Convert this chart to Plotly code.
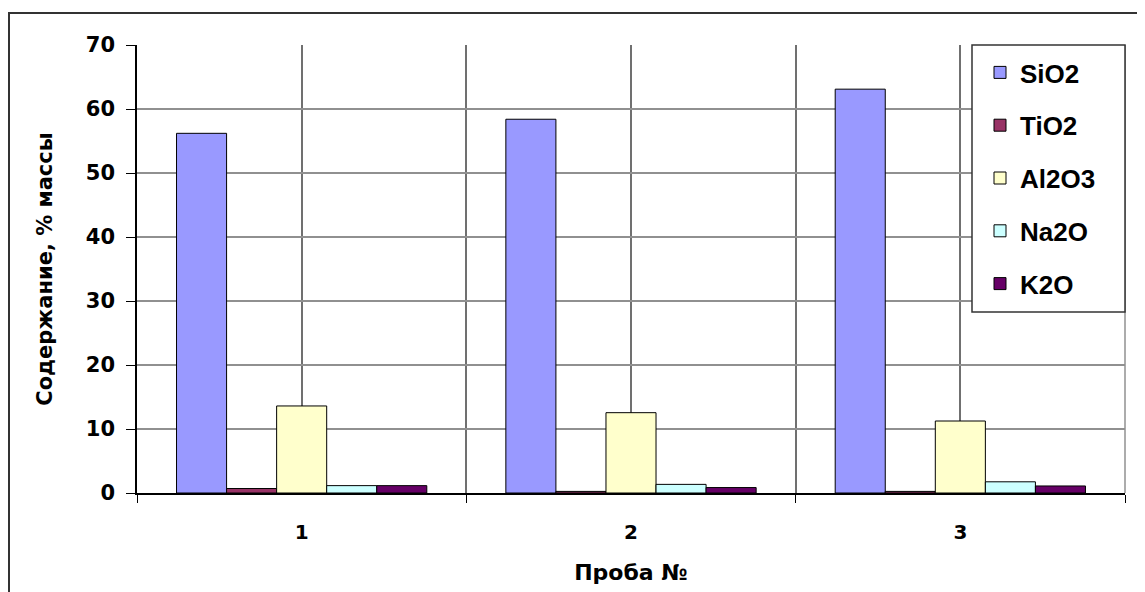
import plotly.graph_objects as go

categories = [1, 2, 3]
category_labels = ["1", "2", "3"]
series_names = ["SiO2", "TiO2", "Al2O3", "Na2O", "K2O"]
sio2 = [56.2, 58.4, 63.1]
tio2 = [0.7, 0.25, 0.25]
al2o3 = [13.6, 12.55, 11.25]
na2o = [1.15, 1.35, 1.75]
k2o = [1.15, 0.85, 1.1]
colors = ["#9999FF", "#993366", "#FFFFCC", "#CCFFFF", "#660066"]
y_ticks = [0, 10, 20, 30, 40, 50, 60, 70]

series_values = [sio2, tio2, al2o3, na2o, k2o]

fig = go.Figure()
for name, vals, col in zip(series_names, series_values, colors):
    fig.add_trace(go.Bar(
        x=categories, y=vals, name=name, legendgroup=name,
        marker=dict(color=col, line=dict(color="#000000", width=1)),
    ))

font_family = "DejaVu Sans, Liberation Sans, Arial, sans-serif"
leg_font = "Liberation Sans, Arial, sans-serif"

PW, PH = 988, 448  # plot area size in px
def px_x(p):
    return (p - 137) / PW
def px_y(p):
    return (493 - p) / PH

fig.update_layout(
    width=1137, height=584,
    margin=dict(l=129, r=20, t=37, b=99),
    paper_bgcolor="white", plot_bgcolor="white",
    barmode="group", bargap=0.24, bargroupgap=0,
    font=dict(family=font_family, color="black"),
    showlegend=True,
    legend=dict(
        x=px_x(980), y=px_y(49), xanchor="left", yanchor="top",
        bgcolor="rgba(0,0,0,0)", borderwidth=0,
        font=dict(size=26, family=leg_font, color="black", weight="bold"),
        itemwidth=30, tracegroupgap=16,
    ),
    xaxis=dict(
        range=[0.5, 3.5],
        tickvals=categories, ticktext=category_labels,
        tickfont=dict(size=20, family=font_family, weight="bold"),
        ticks="", ticklabelstandoff=20,
        showgrid=True, gridcolor="#707070", gridwidth=1.5,
        showline=True, linecolor="#000000", linewidth=1.5,
        minor=dict(tickvals=[0.5, 1.5, 2.5, 3.5], ticks="outside", ticklen=8,
                   tickcolor="#000000", showgrid=True, gridcolor="#707070", gridwidth=1.5),
        title=dict(text="<b>Проба №</b>", font=dict(size=22, family=font_family), standoff=22),
        zeroline=False, mirror=False,
    ),
    yaxis=dict(
        range=[0, 70], tickvals=y_ticks,
        tickfont=dict(size=21, family=font_family, weight="bold"),
        ticks="outside", ticklen=9, tickcolor="#000000", ticklabelstandoff=7,
        showgrid=True, gridcolor="#909090", gridwidth=1.5,
        showline=True, linecolor="#000000", linewidth=1.5,
        title=dict(text="<b>Содержание, % массы</b>", font=dict(size=21, family=font_family), standoff=27),
        zeroline=False,
    ),
    shapes=[
        dict(type="rect", xref="paper", yref="paper",
             x0=px_x(9), x1=px_x(1160),
             y0=px_y(620), y1=px_y(13),
             line=dict(color="#333333", width=2), fillcolor="rgba(0,0,0,0)", layer="below"),
        dict(type="line", xref="paper", yref="paper", x0=1, x1=1, y0=0, y1=1,
             line=dict(color="#909090", width=1.5)),
        dict(type="rect", xref="paper", yref="paper",
             x0=px_x(972), x1=px_x(1125), y0=px_y(312), y1=px_y(45),
             line=dict(color="#333333", width=1.5), fillcolor="white", layer="above"),
    ],
)

fig.write_html("out.html")
